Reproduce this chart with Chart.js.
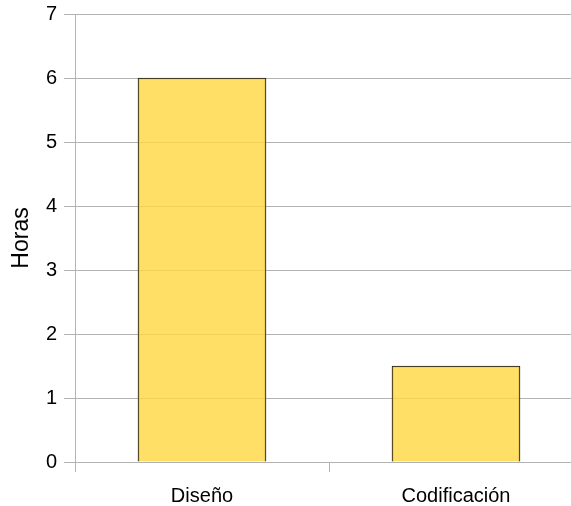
<!DOCTYPE html>
<html lang="es">
<head>
  <meta charset="UTF-8">
  <meta name="viewport" content="width=device-width, initial-scale=1.0">
  <title>Horas por tarea</title>
  <script src="https://cdn.jsdelivr.net/npm/chart.js"></script>
  <style>
    html, body { margin: 0; padding: 0; overflow: hidden; background: #fff; }
    #wrap { position: relative; width: 583px; height: 506px; }
  </style>
</head>
<body>
  <div id="wrap"><canvas id="horas"></canvas></div>
  <script>
    const tareas = ['Diseño', 'Codificación'];
    const horas = [6, 1.5];
    const ejeMin = 0;
    const ejeMax = 7;
    const ejePaso = 1;

    const gris = '#b3b3b3';
    const fuente = { family: '"Liberation Sans", Arial, sans-serif', size: 20 };

    Chart.defaults.color = '#000';
    Chart.defaults.font.family = fuente.family;

    const ctx = document.getElementById('horas');

    new Chart(ctx, {
      type: 'bar',
      data: {
        labels: tareas,
        datasets: [{
          label: 'Horas',
          data: horas,
          backgroundColor: 'rgba(255, 215, 64, 0.8)',
          borderColor: '#1a1a1a',
          borderWidth: 1,
          barThickness: 128
        }]
      },
      options: {
        responsive: true,
        maintainAspectRatio: false,
        animation: false,
        layout: { padding: { top: 14, right: 0, bottom: 0, left: 0 } },
        plugins: {
          legend: { display: false },
          tooltip: { enabled: false }
        },
        scales: {
          x: {
            grid: {
              offset: true,
              drawOnChartArea: false,
              tickLength: 10,
              color: gris
            },
            border: { color: gris },
            ticks: { font: fuente, padding: 12 },
            afterFit: (scale) => { scale.height = 44; }
          },
          y: {
            min: ejeMin,
            max: ejeMax,
            grid: { color: gris, tickLength: 11 },
            border: { color: gris },
            ticks: { stepSize: ejePaso, font: fuente, padding: 7 },
            title: {
              display: true,
              text: 'Horas',
              font: { family: fuente.family, size: 23 },
              padding: { top: 8, bottom: 0 }
            },
            afterFit: (scale) => {
              // fixed gutter; let the layout padding decide the top edge
              scale.width = 75;
              scale.paddingTop = 0;
              scale.paddingBottom = 0;
            }
          }
        }
      }
    });
  </script>
</body>
</html>
